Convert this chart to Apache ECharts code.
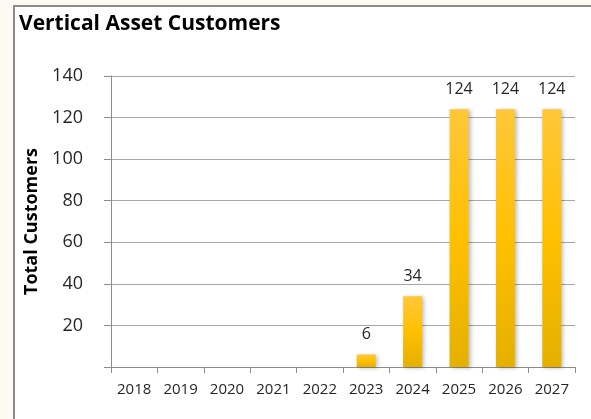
<!DOCTYPE html>
<html><head><meta charset="utf-8">
<script src="https://cdn.jsdelivr.net/npm/echarts@6/dist/echarts.min.js"></script>
<style>html,body{margin:0;padding:0;background:#fdfaf3;}#c{width:591px;height:419px;}</style>
</head><body><div id="c"></div>
<script>
const title = 'Vertical Asset Customers';
const yAxisName = 'Total Customers';
const categories = ['2018','2019','2020','2021','2022','2023','2024','2025','2026','2027'];
const customers = [0, 0, 0, 0, 0, 6, 34, 124, 124, 124];
const labelVals = [null, null, null, null, null, 6, 34, 124, 124, 124];

const chart = echarts.init(document.getElementById('c'), null, {renderer:'canvas'});
const font = "'Open Sans', 'Noto Sans', sans-serif";
chart.setOption({
  animation: false,
  backgroundColor: 'transparent',
  graphic: [
    {type:'rect', shape:{x:14, y:6, width:600, height:430}, style:{fill:'#ffffff', stroke:'#8a8a8a', lineWidth:2}, z:-10},
    {type:'text', left:19, top:14, style:{text:title, font:"bold 21px 'Open Sans', sans-serif", fill:'#000000'}}
  ],
  grid: {left:111, right:16, top:76, bottom:52},
  xAxis: {
    type:'category', data:categories,
    axisLine:{lineStyle:{color:'#8c8c8c', width:1}},
    axisTick:{show:true, length:6, lineStyle:{color:'#8c8c8c'}},
    axisLabel:{color:'#262626', fontSize:15, fontFamily:font, margin:15, interval:0, hideOverlap:false}
  },
  yAxis: {
    type:'value', min:0, max:140, interval:20,
    name:yAxisName, nameLocation:'middle', nameGap:70,
    nameTextStyle:{fontSize:18, fontWeight:'bold', color:'#000', fontFamily:font},
    axisLine:{show:true, lineStyle:{color:'#8c8c8c'}},
    axisTick:{show:true, length:7, lineStyle:{color:'#8c8c8c'}},
    splitLine:{lineStyle:{color:'#a6a6a6'}},
    axisLabel:{color:'#262626', fontSize:18, fontFamily:font, margin:28,
      formatter: v => v === 0 ? '' : String(v)}
  },
  series: [{
    type:'bar', data:customers, barWidth:19,
    itemStyle:{
      color:new echarts.graphic.LinearGradient(0,0,0,1,[
        {offset:0, color:'#ffc73a'},{offset:0.5, color:'#ffc000'},{offset:1, color:'#e5b000'}]),
      shadowColor:'rgba(0,0,0,0.25)', shadowBlur:4, shadowOffsetX:2, shadowOffsetY:1
    },
    label:{show:true, position:'top', distance:12, color:'#262626', fontSize:16, fontFamily:font,
      formatter: p => labelVals[p.dataIndex] === null ? '' : String(labelVals[p.dataIndex])}
  }]
});
</script></body></html>
